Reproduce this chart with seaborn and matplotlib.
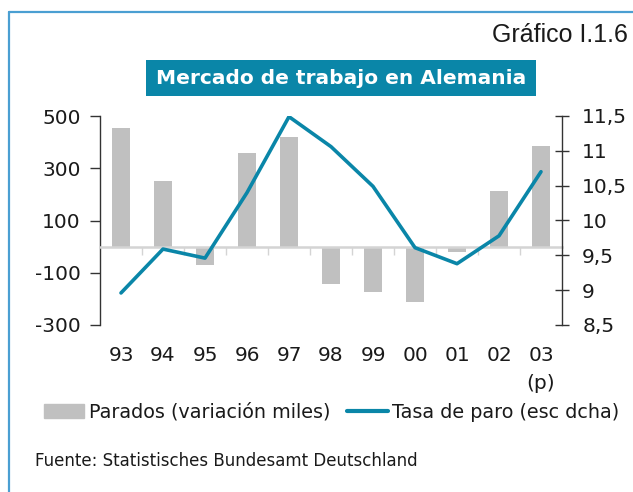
import matplotlib
matplotlib.use("Agg")
import matplotlib.pyplot as plt
import seaborn as sns
import numpy as np
import pandas as pd
from matplotlib.lines import Line2D
from matplotlib.patches import Rectangle

years = ["93", "94", "95", "96", "97", "98", "99", "00", "01", "02", "03\n(p)"]
parados = [455, 250, -70, 360, 420, -142, -173, -213, -20, 214, 385]
tasa = [8.96, 9.59, 9.46, 10.40, 11.49, 11.06, 10.49, 9.61, 9.38, 9.78, 10.70]
left_ticks = [-300, -100, 100, 300, 500]
right_ticks = [8.5, 9, 9.5, 10, 10.5, 11, 11.5]
right_labels = ["8,5", "9", "9,5", "10", "10,5", "11", "11,5"]

BAR = "#C0C0C0"
TEAL = "#0A86A8"
TXT = "#1a1a1a"

sns.set_theme(style="white")
plt.rcParams["font.family"] = ["DejaVu Sans"]

fig = plt.figure(figsize=(6.33, 4.92), dpi=100)
ax = fig.add_axes([100/633, 1-325/492, 462/633, 209/492])

df = pd.DataFrame({"year": years, "parados": parados, "tasa": tasa})
df["pos"] = np.arange(len(years))

sns.barplot(data=df, x="year", y="parados", color=BAR, width=0.42,
            saturation=1, ax=ax, edgecolor="none", linewidth=0)
ax.set_ylim(-300, 500)
ax.set_xlim(-0.5, len(years)-0.5)
ax.set_yticks(left_ticks)
ax.set_yticklabels([str(v) for v in left_ticks])
ax.tick_params(axis="y", direction="out", length=7, width=1, color="#333333",
               labelsize=14.5, labelcolor=TXT, pad=7, left=True)
ax.set_xlabel("")
ax.set_ylabel("")
for s in ["top", "right"]:
    ax.spines[s].set_visible(False)
ax.spines["left"].set_color("#333333")
ax.spines["left"].set_linewidth(1)
ax.spines["bottom"].set_position(("data", 0))
ax.spines["bottom"].set_color("#d4d4d4")
ax.spines["bottom"].set_linewidth(1.8)
ax.set_xticks(np.arange(len(years)-1) + 0.5)
ax.set_xticklabels([])
ax.tick_params(axis="x", direction="out", length=6, width=1, color="#d4d4d4", bottom=True)

sec = ax.secondary_xaxis("bottom")
sec.set_xticks(np.arange(len(years)))
sec.set_xticklabels(years)
sec.tick_params(length=0, pad=15, labelsize=14.5, labelcolor=TXT)
sec.spines["bottom"].set_visible(False)
for t in sec.get_xticklabels():
    t.set_linespacing(1.6)

ax2 = ax.twinx()
sns.lineplot(data=df, x="pos", y="tasa", color=TEAL, linewidth=2.6, ax=ax2)
ax2.set_ylim(8.5, 11.5)
ax2.set_xlim(-0.5, len(years)-0.5)
ax2.set_yticks(right_ticks)
ax2.set_yticklabels(right_labels)
ax2.tick_params(axis="y", direction="inout", length=10, width=1, color="#333333",
                labelsize=14.5, labelcolor=TXT, pad=9.5, right=True)
ax2.set_xlabel("")
ax2.set_ylabel("")
for s in ["top", "left", "bottom"]:
    ax2.spines[s].set_visible(False)
ax2.spines["right"].set_color("#333333")
ax2.spines["right"].set_linewidth(1)

handles = [plt.Rectangle((0, 0), 1, 1, color=BAR),
           Line2D([0], [0], color=TEAL, lw=3)]
fig.legend(handles, ["Parados (variación miles)", "Tasa de paro (esc dcha)"],
           loc="center", bbox_to_anchor=(0.524, 1-412/492), ncol=2, frameon=False,
           fontsize=13.8, handlelength=2.1, handleheight=0.7, handletextpad=0.25,
           columnspacing=0.9, labelcolor=TXT)

fig.text(628/633, 1-35/492, "Gráfico I.1.6", ha="right", va="center",
         fontsize=18, family="Liberation Sans", color=TXT)
fig.add_artist(Rectangle((146/633, 1-96/492), 390/633, 36/492,
                         transform=fig.transFigure, facecolor=TEAL, edgecolor="none"))
fig.text(341/633, 1-78/492, "Mercado de trabajo en Alemania", ha="center", va="center",
         fontsize=14.5, fontweight="bold", color="white")
fig.text(35/633, 1-461/492, "Fuente: Statistisches Bundesamt Deutschland", ha="left",
         va="center", fontsize=12, color=TXT)

bc = "#4A9FD2"
fig.add_artist(Line2D([9/633, 9/633], [0, 1-12/492], color=bc, lw=1.6))
fig.add_artist(Line2D([9/633, 1], [1-12/492, 1-12/492], color=bc, lw=1.6))

fig.savefig("out.png", dpi=100)
